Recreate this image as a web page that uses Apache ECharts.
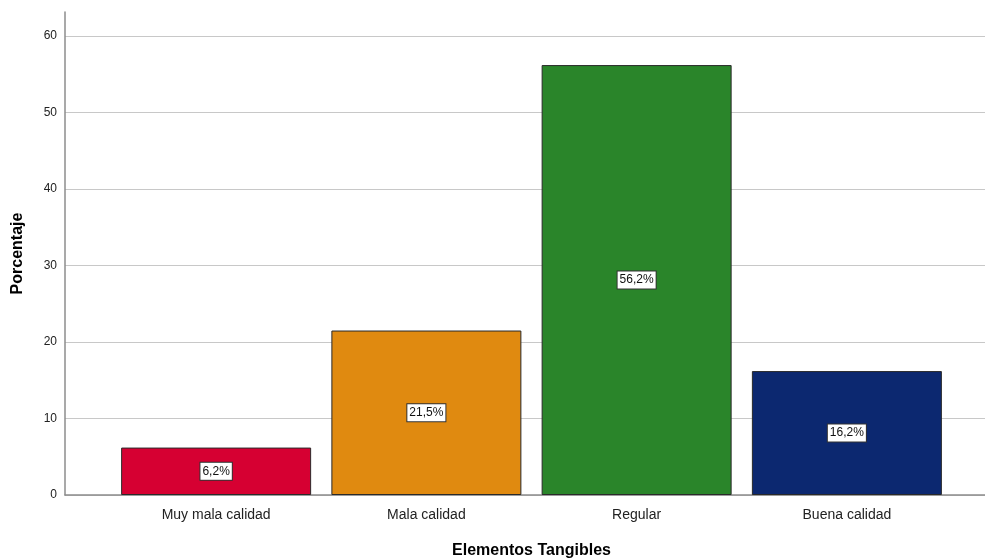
<!DOCTYPE html>
<html>
<head>
<meta charset="utf-8">
<script src="https://cdn.jsdelivr.net/npm/echarts@6/dist/echarts.min.js"></script>
<style>html,body{margin:0;padding:0;background:#fff}#c{width:985px;height:560px}</style>
</head>
<body>
<div id="c"></div>
<script>
const categories = ['Muy mala calidad', 'Mala calidad', 'Regular', 'Buena calidad'];
const values = [6.2, 21.5, 56.2, 16.2];
const yTicks = [0, 10, 20, 30, 40, 50, 60];
const xTitle = 'Elementos Tangibles';
const yTitle = 'Porcentaje';

const palette = ['#D60032', '#E08A10', '#2A852A', '#0C2870'];
const FONT = '"Liberation Sans", Arial, sans-serif';

const chart = echarts.init(document.getElementById('c'));
chart.setOption({
  animation: false,
  backgroundColor: '#fff',
  grid: [
    { left: 65, right: 0, top: 12, bottom: 65, outerBoundsMode: 'none', containLabel: false },
    { left: 65, right: 0, top: 36, bottom: 65, outerBoundsMode: 'none', containLabel: false },
    { left: 111, right: 33, top: 36, bottom: 65, outerBoundsMode: 'none', containLabel: false }
  ],
  xAxis: [
    { gridIndex: 0, type: 'category', data: categories, show: false },
    { gridIndex: 1, type: 'category', data: categories,
      axisLine: { show: true, lineStyle: { color: '#8c8c8c', width: 1.5 } },
      axisTick: { show: false }, axisLabel: { show: false } },
    { gridIndex: 2, type: 'category', data: categories,
      axisLine: { show: false }, axisTick: { show: false },
      axisLabel: { color: '#222', fontSize: 14, fontFamily: FONT, margin: 13 },
      name: xTitle, nameLocation: 'middle', nameGap: 48,
      nameTextStyle: { color: '#000', fontSize: 16, fontWeight: 'bold', fontFamily: FONT } }
  ],
  yAxis: [
    { gridIndex: 0, type: 'value', min: 0, max: 63,
      axisLine: { show: true, lineStyle: { color: '#8c8c8c', width: 1.5 } },
      axisTick: { show: false }, axisLabel: { show: false }, splitLine: { show: false },
      name: yTitle, nameLocation: 'middle', nameGap: 39,
      nameTextStyle: { color: '#000', fontSize: 16, fontWeight: 'bold', fontFamily: FONT } },
    { gridIndex: 1, type: 'value', min: yTicks[0], max: yTicks[yTicks.length - 1], interval: yTicks[1] - yTicks[0],
      axisLine: { show: false }, axisTick: { show: false },
      axisLabel: { color: '#222', fontSize: 12, fontFamily: FONT, margin: 8 },
      splitLine: { show: true, lineStyle: { color: '#c8c8c8', width: 1.2 } } },
    { gridIndex: 2, type: 'value', min: yTicks[0], max: yTicks[yTicks.length - 1], show: false }
  ],
  series: [{
    type: 'bar',
    xAxisIndex: 2, yAxisIndex: 2,
    barWidth: 190,
    data: values.map((v, i) => ({
      value: v,
      itemStyle: { color: palette[i], borderColor: '#2a2a2a', borderWidth: 1 }
    })),
    label: {
      show: true, position: 'inside',
      formatter: p => p.value.toFixed(1).replace('.', ',') + '%',
      color: '#111', fontSize: 12, fontFamily: FONT,
      backgroundColor: '#fff', borderColor: '#333', borderWidth: 1,
      padding: [3, 2, 2, 2]
    }
  }]
});
</script>
</body>
</html>
